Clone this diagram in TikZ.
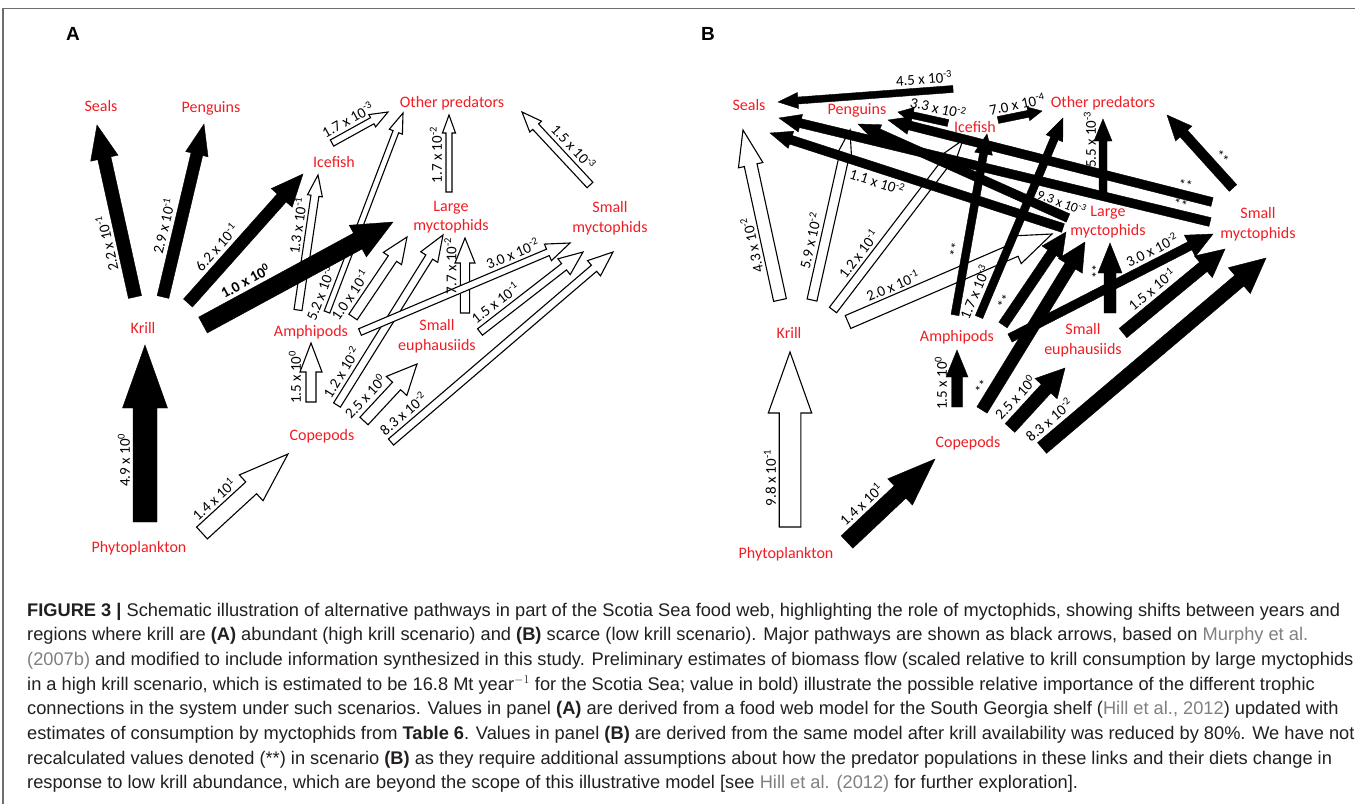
\documentclass[tikz,border=0pt]{standalone}
\usepackage{fontspec}
\usepackage{graphicx}
\usetikzlibrary{calc}
\newfontfamily\calib{Carlito}
\newfontfamily\capf{Liberation Sans}
\definecolor{lblred}{RGB}{240,30,36}
\definecolor{captxt}{RGB}{35,31,32}
\definecolor{citgray}{RGB}{128,128,128}
\definecolor{framegray}{RGB}{110,110,110}
\newcommand\sci[2]{#1 x 10\textsuperscript{#2}}
\newcommand\cit[1]{\textcolor{citgray}{#1}}
\newlength\caplinew
\newcommand\capfont{\capf\fontsize{18.3}{22}\selectfont}
% block arrow: style, tail, tip, shaft half-width, head half-width, head length
\newcommand\blockarrow[6]{%
  \coordinate (hb) at ($(#3)!#6pt!(#2)$);
  \path[#1] ($(#2)!#4pt!90:(#3)$) -- ($(hb)!#4pt!90:(#3)$) -- ($(hb)!#5pt!90:(#3)$) -- (#3)
    -- ($(hb)!#5pt!-90:(#3)$) -- ($(hb)!#4pt!-90:(#3)$) -- ($(#2)!#4pt!-90:(#3)$) -- cycle;
}
% label along arrow: [style]{rotation}{name}{arrow}{fraction}{side offset}
\newcommand\lab[6][num]{\node[#1, rotate=#2] (#3) at ($(#4s)!#5!(#4e)!#6pt!90:(#4e)$)}
\tikzset{
  spn/.style={font=\calib\fontsize{16}{19.5}\selectfont, text=lblred, align=center, inner sep=0pt},
  num/.style={font=\calib\fontsize{15}{17}\selectfont, inner sep=0pt},
  nums/.style={font=\calib\fontsize{13.5}{16}\selectfont, inner sep=0pt},
  numb/.style={font=\calib\bfseries\fontsize{15}{17}\selectfont, inner sep=0pt},
  astk/.style={font=\calib\fontsize{14}{16}\selectfont, inner sep=0pt},
  blk/.style={fill=black, draw=black, line width=0.4pt, line join=miter},
  wht/.style={fill=white, draw=black, line width=1.1pt, line join=miter},
  capl/.style={anchor=base west, inner sep=0pt, text=captxt},
  panel/.style={font=\capf\bfseries\fontsize{19}{22}\selectfont, inner sep=0pt}
}
\begin{document}
\settowidth\caplinew{\capfont\textbf{FIGURE 3 |} Schematic illustration of alternative pathways in part of the Scotia Sea food web, highlighting the role of myctophids, showing shifts between years and}
\pgfmathsetmacro\capsx{1313pt/\caplinew}
\begin{tikzpicture}[x=1pt,y=-1pt]
\useasboundingbox (0,0) rectangle (1355,804);
\fill[white] (0,0) rectangle (1355,804);
\draw[framegray, line width=1.3pt] (3,804) -- (3,8.5) -- (1355,8.5);

% ---------------- panel labels
\node[panel] (pA) at (73,34) {A};
\node[panel] (pB) at (708,34) {B};

% ---------------- panel A nodes
\node[spn] (nAseal) at (101,106) {Seals};
\node[spn] (nApeng) at (211,108) {Penguins};
\node[spn] (nAice)  at (334,162) {Icefish};
\node[spn] (nAoth)  at (452,103) {Other predators};
\node[spn] (nAlmy)  at (451,217) {Large\\myctophids};
\node[spn] (nAsmy)  at (610,218) {Small\\myctophids};
\node[spn] (nAkri)  at (143,328) {Krill};
\node[spn] (nAamp)  at (311,332) {Amphipods};
\node[spn] (nAseu)  at (437,336) {Small\\euphausiids};
\node[spn] (nAcop)  at (322,436) {Copepods};
\node[spn] (nAphy)  at (139,548) {Phytoplankton};

% ---------------- panel A coordinates
\coordinate (A1s) at (135,297); \coordinate (A1e) at (97,125);
\coordinate (A2s) at (163,297); \coordinate (A2e) at (204,124);
\coordinate (A3s) at (188,303); \coordinate (A3e) at (303,174);
\coordinate (A4s) at (203,325); \coordinate (A4e) at (393,222);
\coordinate (A5s) at (145,522); \coordinate (A5e) at (145,345);
\coordinate (A6s) at (202,533); \coordinate (A6e) at (288,454);
\coordinate (A7s) at (311,402); \coordinate (A7e) at (311,343);
\coordinate (A8s) at (337,405); \coordinate (A8e) at (443,235);
\coordinate (A9s) at (364,421); \coordinate (A9e) at (417,364);
\coordinate (A10s) at (391,442); \coordinate (A10e) at (613,252);
\coordinate (A11s) at (480,332); \coordinate (A11e) at (583,252);
\coordinate (A12s) at (465,313); \coordinate (A12e) at (465,238);
\coordinate (A13s) at (360,332); \coordinate (A13e) at (570,243);
\coordinate (A14s) at (353,317); \coordinate (A14e) at (407,237);
\coordinate (A15s) at (298,310); \coordinate (A15e) at (318,175);
\coordinate (A16s) at (327,312); \coordinate (A16e) at (403,113);
\coordinate (A17s) at (332,143); \coordinate (A17e) at (388,112);
\coordinate (A18s) at (449,192); \coordinate (A18e) at (449,115);
\coordinate (A19s) at (590,185); \coordinate (A19e) at (522,112);

% white arrows A
\blockarrow{wht}{A6s}{A6e}{8}{17.5}{50}
\blockarrow{wht}{A7s}{A7e}{5}{11}{29}
\blockarrow{wht}{A8s}{A8e}{4}{10}{26}
\blockarrow{wht}{A9s}{A9e}{5.5}{14}{30}
\blockarrow{wht}{A10s}{A10e}{4}{10}{25}
\blockarrow{wht}{A11s}{A11e}{4}{10}{24}
\blockarrow{wht}{A12s}{A12e}{4.6}{10}{25}
\blockarrow{wht}{A13s}{A13e}{3.5}{9}{24}
\blockarrow{wht}{A14s}{A14e}{5}{11}{26}
\blockarrow{wht}{A15s}{A15e}{4}{7.5}{21}
\blockarrow{wht}{A16s}{A16e}{3}{7}{20}
\blockarrow{wht}{A17s}{A17e}{3.5}{7}{18}
\blockarrow{wht}{A18s}{A18e}{3}{6.5}{18}
\blockarrow{wht}{A19s}{A19e}{4}{8}{20}
% black arrows A
\blockarrow{blk}{A1s}{A1e}{6.7}{14}{34}
\blockarrow{blk}{A2s}{A2e}{6}{11.5}{31}
\blockarrow{blk}{A3s}{A3e}{6}{14}{32}
\blockarrow{blk}{A4s}{A4e}{9}{18}{40}
\blockarrow{blk}{A5s}{A5e}{12}{22.5}{63}

% labels A
\lab{102.5}{lA1}{A1}{0.33}{16} {\sci{2.2}{-1}};
\lab{76.7}{lA2}{A2}{0.39}{16} {\sci{2.9}{-1}};
\lab{48.3}{lA3}{A3}{0.35}{16} {\sci{6.2}{-1}};
\lab[numb]{28.5}{lA4}{A4}{0.27}{19} {\sci{1.0}{0}};
\lab{90}{lA5}{A5}{0.35}{21} {\sci{4.9}{0}};
\lab{42.6}{lA6}{A6}{0.27}{17} {\sci{1.4}{1}};
\lab{90}{lA7}{A7}{0.42}{16} {\sci{1.5}{0}};
\lab{58}{lA8}{A8}{0.15}{14} {\sci{1.2}{-2}};
\lab{47}{lA9}{A9}{0.24}{16} {\sci{2.5}{0}};
\lab{40.6}{lA10}{A10}{0.095}{14} {\sci{8.3}{-2}};
\lab{37.8}{lA11}{A11}{0.23}{14} {\sci{1.5}{-1}};
\lab{90}{lA12}{A12}{0.63}{14.5} {\sci{7.7}{-2}};
\lab{23}{lA13}{A13}{0.75}{13} {\sci{3.0}{-2}};
\lab{56}{lA14}{A14}{0.17}{15} {\sci{1.0}{-1}};
\lab{81.6}{lA15}{A15}{0.61}{13} {\sci{1.3}{-1}};
\lab{69}{lA16}{A16}{0.07}{13} {\sci{5.2}{-3}};
\lab{29}{lA17}{A17}{0.39}{13} {\sci{1.7}{-3}};
\lab{90}{lA18}{A18}{0.48}{13} {\sci{1.7}{-2}};
\lab{-47}{lA19}{A19}{0.39}{-14} {\sci{1.5}{-3}};

% ---------------- panel B nodes
\node[spn] (nBseal) at (749,105) {Seals};
\node[spn] (nBpeng) at (857,110) {Penguins};
\node[spn] (nBice)  at (975,127) {Icefish};
\node[spn] (nBoth)  at (1103,103) {Other predators};
\node[spn] (nBlmy)  at (1108,222) {Large\\myctophids};
\node[spn] (nBsmy)  at (1258,224) {Small\\myctophids};
\node[spn] (nBkri)  at (789,333) {Krill};
\node[spn] (nBamp)  at (957,337) {Amphipods};
\node[spn] (nBseu)  at (1083,340) {Small\\euphausiids};
\node[spn] (nBcop)  at (968,443) {Copepods};
\node[spn] (nBphy)  at (786,554) {Phytoplankton};

% ---------------- panel B coordinates
\coordinate (B1s) at (790,527); \coordinate (B1e) at (790,352);
\coordinate (B2s) at (847,542); \coordinate (B2e) at (935,459);
\coordinate (B3s) at (957,407); \coordinate (B3e) at (957,350);
\coordinate (B4s) at (1010,428); \coordinate (B4e) at (1065,368);
\coordinate (B5s) at (1042,448); \coordinate (B5e) at (1266,258);
\coordinate (B6s) at (982,410); \coordinate (B6e) at (1085,242);
\coordinate (B7s) at (1110,313); \coordinate (B7e) at (1110,243);
\coordinate (B8s) at (1123,333); \coordinate (B8e) at (1225,249);
\coordinate (B9s) at (1010,338); \coordinate (B9e) at (1213,234);
\coordinate (B10s) at (955,315); \coordinate (B10e) at (987,134);
\coordinate (B11s) at (979,317); \coordinate (B11e) at (1063,118);
\coordinate (B12s) at (1003,325); \coordinate (B12e) at (1066,232);
\coordinate (B13s) at (948,123); \coordinate (B13e) at (898,112);
\coordinate (B14s) at (953,89); \coordinate (B14e) at (778,102);
\coordinate (B15s) at (998,120); \coordinate (B15e) at (1042,111);
\coordinate (B16s) at (1103,193); \coordinate (B16e) at (1103,119);
\coordinate (B17s) at (1233,188); \coordinate (B17e) at (1167,115);
\coordinate (B18s) at (1212,202); \coordinate (B18e) at (888,120);
\coordinate (B19s) at (1210,222); \coordinate (B19e) at (779,118);
\coordinate (B20s) at (1068,218); \coordinate (B20e) at (858,124);
\coordinate (B21s) at (1063,228); \coordinate (B21e) at (770,133);
\coordinate (B22s) at (780,300); \coordinate (B22e) at (743,130);
\coordinate (B23s) at (812,300); \coordinate (B23e) at (850,130);
\coordinate (B24s) at (833,310); \coordinate (B24e) at (963,140);
\coordinate (B25s) at (848,322); \coordinate (B25e) at (1052,234);

% white arrows B
\blockarrow{wht}{B1s}{B1e}{10.8}{21.7}{61}
\blockarrow{wht}{B22s}{B22e}{6.5}{12.5}{36}
\blockarrow{wht}{B23s}{B23e}{5}{8.5}{30}
\blockarrow{wht}{B24s}{B24e}{4.5}{8}{25}
\blockarrow{wht}{B25s}{B25e}{7}{15}{40}
% black arrows B
\blockarrow{blk}{B2s}{B2e}{8.5}{18}{48}
\blockarrow{blk}{B3s}{B3e}{5.5}{11}{27}
\blockarrow{blk}{B4s}{B4e}{6.5}{15}{28}
\blockarrow{blk}{B5s}{B5e}{7}{17}{35}
\blockarrow{blk}{B6s}{B6e}{6}{14}{28}
\blockarrow{blk}{B7s}{B7e}{6}{12}{30}
\blockarrow{blk}{B8s}{B8e}{6}{14}{28}
\blockarrow{blk}{B9s}{B9e}{4.5}{12}{26}
\blockarrow{blk}{B10s}{B10e}{4}{9}{20}
\blockarrow{blk}{B11s}{B11e}{4}{9}{22}
\blockarrow{blk}{B12s}{B12e}{5}{12}{25}
\blockarrow{blk}{B13s}{B13e}{3.5}{8}{15}
\blockarrow{blk}{B14s}{B14e}{3.5}{8}{20}
\blockarrow{blk}{B15s}{B15e}{3.5}{7}{14}
\blockarrow{blk}{B16s}{B16e}{4}{9}{22}
\blockarrow{blk}{B17s}{B17e}{5}{11}{25}
\blockarrow{blk}{B18s}{B18e}{4.5}{9}{22}
\blockarrow{blk}{B19s}{B19e}{4.5}{9}{22}
\blockarrow{blk}{B20s}{B20e}{4.5}{9}{22}
\blockarrow{blk}{B21s}{B21e}{4.5}{9}{22}

% labels B
\lab{90}{lB1}{B1}{0.28}{20} {\sci{9.8}{-1}};
\lab{43.3}{lB2}{B2}{0.3}{18} {\sci{1.4}{1}};
\lab{90}{lB3}{B3}{0.42}{16} {\sci{1.5}{0}};
\lab{47.5}{lB4}{B4}{0.32}{17} {\sci{2.5}{0}};
\lab{40.3}{lB5}{B5}{0.08}{17} {\sci{8.3}{-2}};
\lab[astk]{58.5}{lB6}{B6}{0.10}{12} {**};
\lab[astk]{90}{lB7}{B7}{0.59}{13} {**};
\lab{39.5}{lB8}{B8}{0.38}{16} {\sci{1.5}{-1}};
\lab{27}{lB9}{B9}{0.73}{14} {\sci{3.0}{-2}};
\lab[astk]{80}{lB10}{B10}{0.35}{11} {**};
\lab{67}{lB11}{B11}{0.10}{14} {\sci{1.7}{-3}};
\lab[astk]{56}{lB12}{B12}{0.18}{12} {**};
\lab{-12.4}{lB13}{B13}{0.25}{-13} {\sci{3.3}{-2}};
\lab{4.2}{lB14}{B14}{0.16}{-13} {\sci{4.5}{-3}};
\lab{11.6}{lB15}{B15}{0.49}{12} {\sci{7.0}{-4}};
\lab{90}{lB16}{B16}{0.72}{13} {\sci{5.5}{-3}};
\lab[astk]{-48}{lB17}{B17}{0.31}{-12} {**};
\lab[astk]{-14}{lB18}{B18}{0.09}{-10} {**};
\lab[astk]{-13.6}{lB19}{B19}{0.074}{-10} {**};
\node[nums, rotate=-21] (lB20) at (1062,202) {\sci{9.3}{-3}};
\lab{-18}{lB21}{B21}{0.62}{13} {\sci{1.1}{-2}};
\lab{102.3}{lB22}{B22}{0.34}{16} {\sci{4.3}{-2}};
\lab{77.4}{lB23}{B23}{0.33}{15} {\sci{5.9}{-2}};
\lab{52.6}{lB24}{B24}{0.28}{14} {\sci{1.2}{-1}};
\lab{23.3}{lB25}{B25}{0.25}{16} {\sci{2.0}{-1}};

% ---------------- caption
\node[capl] (c1) at (27,616) {\scalebox{\capsx}[1]{\capfont\textbf{FIGURE 3 |} Schematic illustration of alternative pathways in part of the Scotia Sea food web, highlighting the role of myctophids, showing shifts between years and}};
\node[capl] (c2) at (27,640.7) {\scalebox{\capsx}[1]{\capfont regions where krill are \textbf{(A)} abundant (high krill scenario) and \textbf{(B)} scarce (low krill scenario). Major pathways are shown as black arrows, based on \cit{Murphy et al.}}};
\node[capl] (c3) at (27,665.4) {\scalebox{\capsx}[1]{\capfont \cit{(2007b)} and modified to include information synthesized in this study. Preliminary estimates of biomass flow (scaled relative to krill consumption by large myctophids}};
\node[capl] (c4) at (27,690.1) {\scalebox{\capsx}[1]{\capfont in a high krill scenario, which is estimated to be 16.8 Mt year$^{-1}$ for the Scotia Sea; value in bold) illustrate the possible relative importance of the different trophic}};
\node[capl] (c5) at (27,714.8) {\scalebox{\capsx}[1]{\capfont connections in the system under such scenarios. Values in panel \textbf{(A)} are derived from a food web model for the South Georgia shelf (\cit{Hill et al., 2012}) updated with}};
\node[capl] (c6) at (27,739.5) {\scalebox{\capsx}[1]{\capfont estimates of consumption by myctophids from \textbf{Table 6}. Values in panel \textbf{(B)} are derived from the same model after krill availability was reduced by 80\%. We have not}};
\node[capl] (c7) at (27,764.2) {\scalebox{\capsx}[1]{\capfont recalculated values denoted (**) in scenario \textbf{(B)} as they require additional assumptions about how the predator populations in these links and their diets change in}};
\node[capl] (c8) at (27,788.9) {\scalebox{\capsx}[1]{\capfont response to low krill abundance, which are beyond the scope of this illustrative model [see \cit{Hill et al. (2012)} for further exploration].}};
\end{tikzpicture}
\end{document}
